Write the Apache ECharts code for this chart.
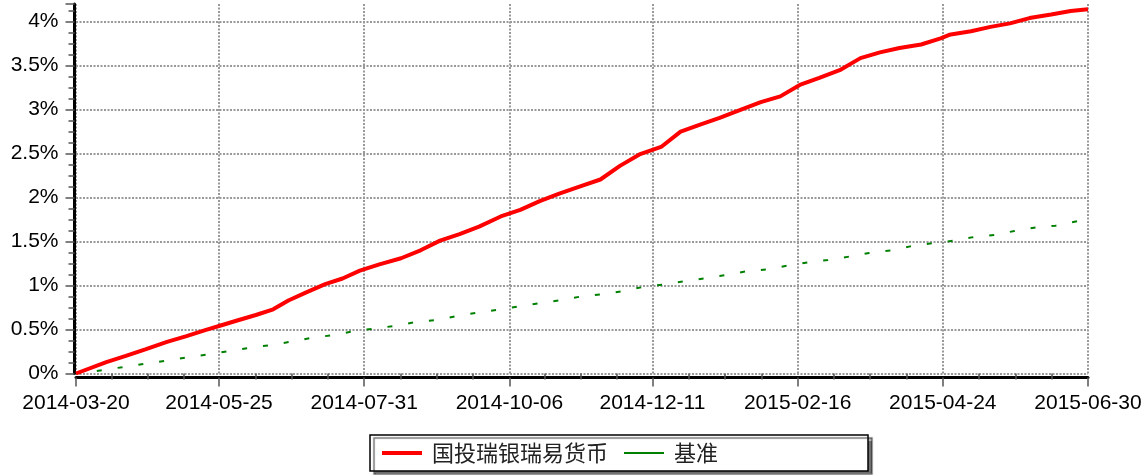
<!DOCTYPE html>
<html><head><meta charset="utf-8">
<script src="https://cdn.jsdelivr.net/npm/echarts@6/dist/echarts.min.js"></script>
<style>html,body{margin:0;padding:0;background:#fff}#c{width:1148px;height:475px}</style>
</head><body><div id="c"></div>
<script>
// x values are day offsets from 2014-03-20
const tickDays = [0, 66, 133, 200, 266, 333, 400, 467];
const tickLabels = ['2014-03-20','2014-05-25','2014-07-31','2014-10-06','2014-12-11','2015-02-16','2015-04-24','2015-06-30'];

const fundName = '国投瑞银瑞易货币';
const fundDays = [0,14,23,32,42,51,60,66,74,83,91,98,106,115,123,131,140,150,159,168,177,186,196,205,214,223,233,242,251,260,270,279,288,297,306,316,325,334,343,353,362,371,380,390,399,403,413,422,431,440,450,459,467];
const fundValues = [0,0.13,0.20,0.275,0.36,0.425,0.495,0.54,0.60,0.665,0.73,0.83,0.92,1.015,1.08,1.17,1.24,1.31,1.40,1.51,1.585,1.67,1.785,1.86,1.96,2.045,2.13,2.205,2.36,2.49,2.575,2.75,2.83,2.905,2.99,3.085,3.15,3.28,3.36,3.455,3.585,3.65,3.70,3.74,3.81,3.85,3.89,3.94,3.98,4.04,4.08,4.12,4.14];

const benchName = '基准';
const benchDays = [0,5,15,24,34,43,53,62,72,82,91,101,110,120,129,138,148,158,167,176,185,195,205,214,223,233,243,253,262,271,281,290,300,309,319,328,338,347,357,366,376,385,395,405,414,424,433,443,452,462,467];
const benchValues = [0,0.01,0.05,0.08,0.12,0.15,0.19,0.22,0.26,0.30,0.325,0.37,0.41,0.44,0.485,0.51,0.545,0.59,0.61,0.655,0.69,0.725,0.765,0.80,0.83,0.875,0.90,0.94,0.985,1.01,1.05,1.08,1.12,1.16,1.185,1.225,1.265,1.29,1.33,1.37,1.40,1.445,1.48,1.51,1.55,1.575,1.62,1.66,1.68,1.73,1.74];

// minor tick positions: quarters between major ticks
const minorDays = [];
for (let i = 0; i < tickDays.length - 1; i++) {
  const a = tickDays[i], b = tickDays[i + 1];
  for (let k = 1; k < 4; k++) minorDays.push(a + (b - a) * k / 4);
}

const chart = echarts.init(document.getElementById('c'), null, {renderer: 'canvas'});
const labelFont = {fontFamily: 'Liberation Sans, Arial, sans-serif', fontSize: 21, color: '#000'};
const gridLine = {show: true, lineStyle: {color: '#999', width: 2, type: [2, 1.5]}};
const hiddenSymbol = {color: 'rgba(0,0,0,0)', borderWidth: 0, opacity: 0};
chart.setOption({
  animation: false,
  backgroundColor: '#fff',
  grid: {left: 76, right: 60, top: 4, bottom: 101.5, containLabel: false},
  xAxis: [{
    type: 'value', min: 0, max: 467, position: 'bottom', offset: 4,
    axisLine: {show: true, onZero: false, lineStyle: {color: '#000', width: 3}},
    axisTick: {show: true, customValues: tickDays, length: 9, lineStyle: {color: '#555', width: 1.5}},
    axisLabel: Object.assign({customValues: tickDays, margin: 15,
      formatter: v => { const i = tickDays.indexOf(Math.round(v)); return i >= 0 ? tickLabels[i] : ''; }}, labelFont),
    splitLine: gridLine
  }, {
    type: 'value', min: 0, max: 467, position: 'bottom', offset: 4,
    axisLine: {show: false},
    axisTick: {show: true, customValues: minorDays, length: 6, lineStyle: {color: '#555', width: 1.5}},
    axisLabel: {show: false},
    splitLine: {show: false}
  }],
  yAxis: {
    type: 'value', min: 0, max: 4.2, interval: 0.5, offset: 1.5,
    axisLine: {show: true, onZero: false, lineStyle: {color: '#000', width: 3}},
    axisTick: {show: true, length: 9, lineStyle: {color: '#555', width: 1.5}},
    minorTick: {show: true, splitNumber: 4, length: 6, lineStyle: {color: '#555', width: 1.5}},
    axisLabel: Object.assign({margin: 16,
      formatter: v => Math.abs(v * 2 - Math.round(v * 2)) < 1e-6 ? (+v.toFixed(1)) + '%' : ''}, labelFont),
    splitLine: Object.assign({showMaxLine: false}, gridLine)
  },
  legend: {
    left: 370, top: 435,
    data: [
      {name: fundName, itemStyle: hiddenSymbol, lineStyle: {width: 4}},
      {name: benchName, itemStyle: hiddenSymbol, lineStyle: {type: 'solid', width: 2}}
    ],
    itemWidth: 40, itemHeight: 14, itemGap: 15,
    padding: [6, 150, 6, 10],
    borderColor: '#000', borderWidth: 1.5, backgroundColor: '#fff', borderRadius: 0,
    shadowColor: 'rgba(0,0,0,0.55)', shadowOffsetX: 4, shadowOffsetY: 3, shadowBlur: 1,
    textStyle: {fontFamily: 'Noto Sans CJK SC', fontSize: 22, color: '#222', lineHeight: 24, padding: [0, 0, 0, 5]}
  },
  series: [{
    name: benchName, type: 'line', xAxisIndex: 0, symbol: 'none', z: 2,
    data: benchDays.map((d, i) => [d, benchValues[i]]),
    lineStyle: {color: '#008000', width: 2, type: [5, 16]},
    itemStyle: {color: '#008000'}
  }, {
    name: fundName, type: 'line', xAxisIndex: 0, symbol: 'none', z: 3,
    data: fundDays.map((d, i) => [d, fundValues[i]]),
    lineStyle: {color: '#ff0000', width: 4},
    itemStyle: {color: '#ff0000'}
  }]
});
</script></body></html>
